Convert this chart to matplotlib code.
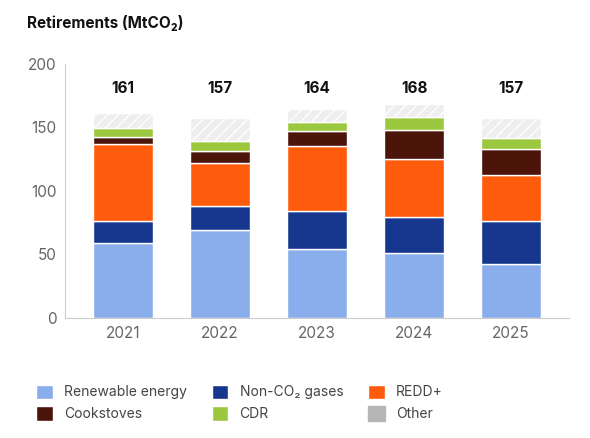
import matplotlib.pyplot as plt
import numpy as np

years = ["2021", "2022", "2023", "2024", "2025"]
renewable = [59, 69, 54, 51, 42]
nonco2 = [17, 19, 30, 28, 34]
redd = [61, 34, 51, 46, 36]
cook = [5, 9, 12, 23, 21]
cdr = [7, 8, 7, 10, 8]
other = [12, 18, 10, 10, 16]
totals = [161, 157, 164, 168, 157]

plt.rcParams['font.family'] = ['Inter', 'DejaVu Sans']
plt.rcParams['hatch.color'] = '#a8a8a8'
fig = plt.figure(figsize=(5.9, 4.38), dpi=100)
ax = fig.add_axes([0.11, 0.275, 0.855, 0.58])
x = np.arange(len(years))
w = 0.62
series = [(renewable, "Renewable energy", "#8aaeeb"), (nonco2, "Non-CO₂ gases", "#17378f"),
          (redd, "REDD+", "#ff5b0d"), (cook, "Cookstoves", "#4b150a"),
          (cdr, "CDR", "#9cc83f")]
bottom = np.zeros(len(years))
handles = []
for vals, lab, col in series:
    b = ax.bar(x, vals, w, bottom=bottom, color=col, edgecolor='white', linewidth=1, label=lab)
    handles.append(b)
    bottom += np.array(vals)
ax.bar(x, other, w, bottom=bottom, color='#eeeeee', edgecolor='white', hatch='///', linewidth=1)
handles.append(plt.Rectangle((0, 0), 1, 1, color='#b5b5b5', label='Other'))
for i, t in enumerate(totals):
    ax.text(x[i], 180, str(t), ha='center', va='center', fontsize=11, fontweight='bold', color='#111')
ax.set_ylim(0, 200)
ax.set_xlim(-0.6, 4.6)
ax.set_yticks([0, 50, 100, 150, 200])
ax.set_xticks(x)
ax.set_xticklabels(years)
ax.tick_params(colors='#666', labelsize=11, length=0, pad=6)
for s in ['top', 'right']:
    ax.spines[s].set_visible(False)
ax.spines['left'].set_color('#ccc')
ax.spines['bottom'].set_color('#ccc')
fig.text(0.045, 0.935, "Retirements (MtCO₂)", fontsize=11, fontweight='bold', color='#111')
order = [0, 3, 1, 4, 2, 5]
hs = [handles[i] for i in order]
fig.legend(handles=hs, labels=[h.get_label() for h in hs],
           loc='lower left', bbox_to_anchor=(0.04, 0.01), ncol=3, frameon=False, fontsize=10,
           handlelength=1.2, handleheight=1.2, columnspacing=1.8, labelcolor='#444')
fig.savefig("out.png", dpi=100)
